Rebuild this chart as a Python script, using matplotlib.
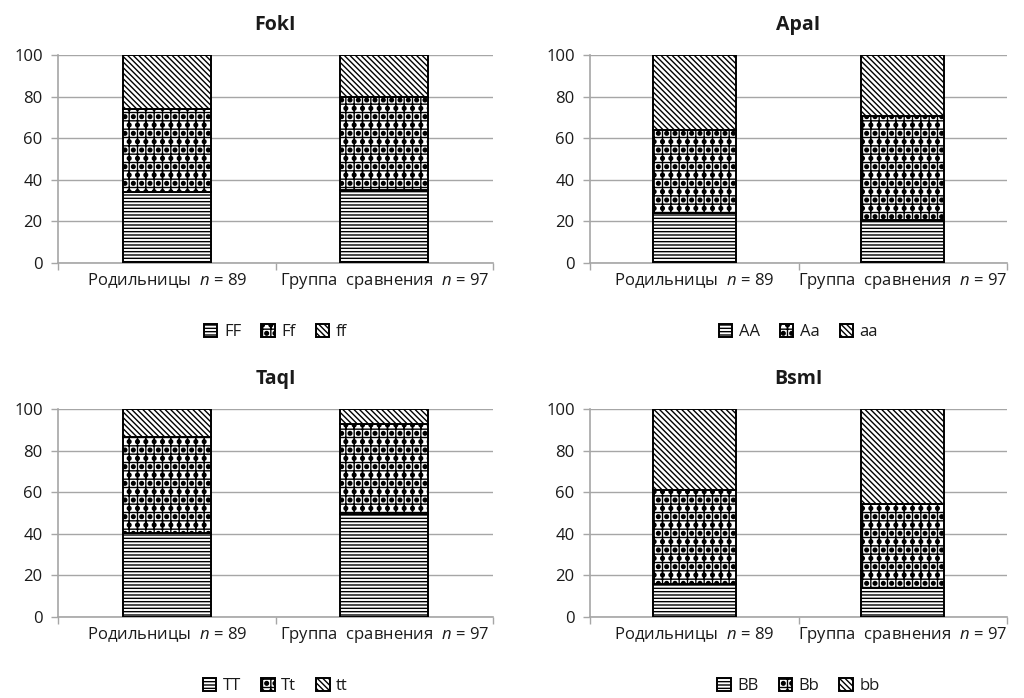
import matplotlib
matplotlib.use('Agg')
import matplotlib.pyplot as plt
import matplotlib.hatch as mhatch
import numpy as np

plt.rcParams['font.family'] = ['Open Sans', 'DejaVu Sans']
plt.rcParams['mathtext.fontset'] = 'custom'
plt.rcParams['mathtext.it'] = 'Open Sans:italic'
plt.rcParams['mathtext.rm'] = 'Open Sans'
plt.rcParams['hatch.linewidth'] = 1.0
# bigger filled dots for the '.' hatch
mhatch.SmallFilledCircles.size = 0.22

# data (percent)
groups = ['Родильницы  $n$ = 89', 'Группа  сравнения  $n$ = 97']

fok_labels = ['FF', 'Ff', 'ff']
fok_FF = [34, 35]
fok_Ff = [40, 45]
fok_ff = [26, 20]

apa_labels = ['AA', 'Aa', 'aa']
apa_AA = [24, 20.5]
apa_Aa = [40, 50]
apa_aa = [36, 29.5]

taq_labels = ['TT', 'Tt', 'tt']
taq_TT = [40.5, 49.5]
taq_Tt = [46, 43.5]
taq_tt = [13.5, 7]

bsm_labels = ['BB', 'Bb', 'bb']
bsm_BB = [16, 14]
bsm_Bb = [45, 40.5]
bsm_bb = [39, 45.5]

hatches = ['-----', '++..', '\\\\\\\\\\\\']
grid_col = '#a6a6a6'
txt_col = '#1a1a1a'

fig = plt.figure(figsize=(10.24, 6.98), dpi=100)

panels = [
    ('FokI', fok_labels, [fok_FF, fok_Ff, fok_ff], [58, 263, 435], 0.405),
    ('ApaI', apa_labels, [apa_AA, apa_Aa, apa_aa], [590, 263, 417], 0.40),
    ('TaqI', taq_labels, [taq_TT, taq_Tt, taq_tt], [58, 617, 435], 0.405),
    ('BsmI', bsm_labels, [bsm_BB, bsm_Bb, bsm_bb], [590, 617, 417], 0.40),
]

for title, labels, series, (px, py, pw), bw in panels:
    ax = fig.add_axes([px / 1024, (698 - py) / 698, pw / 1024, 208 / 698])
    x = np.arange(len(groups))
    bottom = np.zeros(len(groups))
    handles = []
    for vals, lab, h in zip(series, labels, hatches):
        b = ax.bar(x, vals, bw, bottom=bottom, facecolor='white',
                   edgecolor='black', linewidth=1.4, hatch=h, label=lab,
                   zorder=3)
        bottom += np.array(vals)
        handles.append(b)

    ax.set_xlim(-0.5, 1.5)
    ax.set_ylim(0, 100)
    ax.set_yticks([0, 20, 40, 60, 80, 100])
    ax.set_xticks(x)
    ax.set_xticklabels(groups, fontsize=12, color=txt_col)
    ax.set_xticks([-0.5, 0.5, 1.5], minor=True)
    ax.tick_params(axis='x', which='major', length=0, pad=6)
    ax.tick_params(axis='x', which='minor', length=5, color=grid_col, width=1)
    ax.tick_params(axis='y', length=5, color=grid_col, width=1,
                   labelsize=12, labelcolor=txt_col, pad=6)
    ax.yaxis.grid(True, color=grid_col, linewidth=1, zorder=0)
    ax.set_axisbelow(True)
    for s in ['top', 'right']:
        ax.spines[s].set_visible(False)
    for s in ['left', 'bottom']:
        ax.spines[s].set_color(grid_col)
        ax.spines[s].set_linewidth(1.2)
    ax.set_title(title, fontsize=14, fontweight='bold', color=txt_col, pad=18)
    ax.legend(handles=handles, loc='upper center', bbox_to_anchor=(0.5, -0.22),
              ncol=3, frameon=False, fontsize=12, handlelength=0.8,
              handleheight=0.8, handletextpad=0.4, columnspacing=1.2,
              labelcolor=txt_col)

fig.savefig('out.png', dpi=100)
